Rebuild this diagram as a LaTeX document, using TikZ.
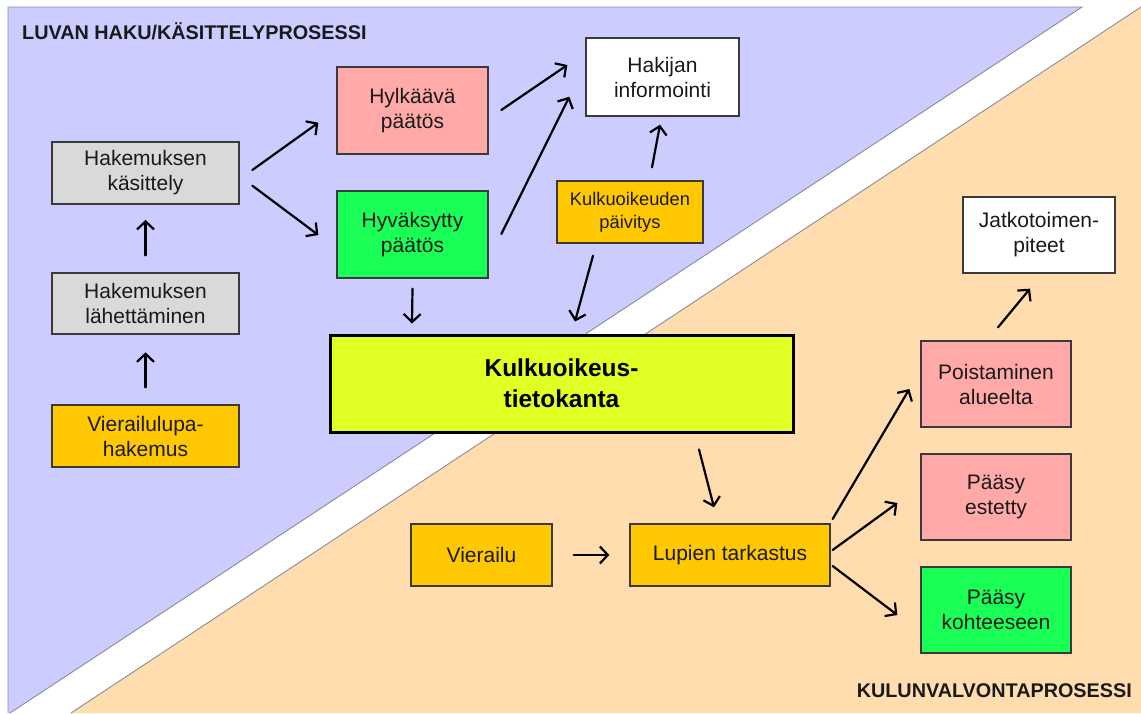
\documentclass[tikz,border=0pt]{standalone}
\usepackage{fontspec}
\setmainfont{Liberation Sans}
\usetikzlibrary{arrows.meta,calc}
\definecolor{lav}{HTML}{CCCCFF}
\definecolor{peach}{HTML}{FFDDAE}
\definecolor{greybox}{HTML}{D9D9D9}
\definecolor{orangebox}{HTML}{FFC800}
\definecolor{pinkbox}{HTML}{FFA9A9}
\definecolor{greenbox}{HTML}{19FF55}
\definecolor{limebox}{HTML}{E0FF22}
\definecolor{edgecol}{HTML}{3A3A3A}
\definecolor{txt}{HTML}{1A1A1A}
\definecolor{bgline}{HTML}{8A8A9A}
\tikzset{
  box/.style={draw=edgecol, line width=1.3pt, inner sep=0pt, align=center, text=txt,
    font=\fontsize{21}{25}\selectfont},
  sz/.style 2 args={minimum width=#1pt, minimum height=#2pt},
  arr/.style={line width=2.2pt, line cap=round, draw=black,
    -{Straight Barb[length=8pt,width=17pt,line width=2.2pt]}},
  heading/.style={font=\fontsize{19.8}{22}\selectfont\bfseries, text=txt, inner sep=0pt}
}
\begin{document}
\begin{tikzpicture}[x=1pt,y=-1pt]
\useasboundingbox (0,0) rectangle (1141,713);
\begin{scope}
\clip (0,0) rectangle (1141,713);
\fill[lav] (8,7) -- (1082,7) -- (10,713) -- (8,713) -- cycle;
\fill[peach] (1141,7) -- (1141,713) -- (71,713) -- cycle;
\draw[bgline, line width=0.9pt] (8,713) -- (8,7) -- (1082,7) -- (10,713);
\draw[bgline, line width=0.9pt] (1141,7) -- (71,713);
\end{scope}

\node[heading, anchor=west] (t1) at (22,31) {LUVAN HAKU/KÄSITTELYPROSESSI};
\node[heading, anchor=east] (t2) at (1132,691) {KULUNVALVONTAPROSESSI};

\node[box, fill=greybox, sz={187}{62}] (hk) at (145.5,173) {Hakemuksen\\käsittely};
\node[box, fill=greybox, sz={187}{61}] (hl) at (145.5,303.5) {Hakemuksen\\lähettäminen};
\node[box, fill=orangebox, sz={187}{62}] (vh) at (145.5,436) {Vierailulupa-\\hakemus};
\node[box, fill=pinkbox, sz={151}{87}] (hyl) at (412.5,110.5) {Hylkäävä\\päätös};
\node[box, fill=greenbox, sz={151}{87}] (hyv) at (412.5,234.5) {Hyväksytty\\päätös};
\node[box, fill=white, sz={153}{78}] (inf) at (662.5,77) {Hakijan\\informointi};
\node[box, fill=orangebox, sz={146}{62}, font=\fontsize{18.3}{23}\selectfont] (paiv) at (630,212) {Kulkuoikeuden\\päivitys};
\node[box, fill=limebox, sz={463}{97}, draw=black, line width=3pt,
  font=\fontsize{24.5}{31}\selectfont\bfseries, text=black] (db) at (561.5,383.5) {Kulkuoikeus-\\tietokanta};
\node[box, fill=white, sz={152}{76}] (jatko) at (1039,235) {Jatkotoimen-\\piteet};
\node[box, fill=pinkbox, sz={150}{86}] (poist) at (996,384) {Poistaminen\\alueelta};
\node[box, fill=pinkbox, sz={150}{86}] (est) at (996,497) {Pääsy\\estetty};
\node[box, fill=greenbox, sz={150}{86}] (koht) at (996,610) {Pääsy\\kohteeseen};
\node[box, fill=orangebox, sz={141}{62}] (vier) at (481.5,555) {Vierailu};
\node[box, fill=orangebox, sz={200}{62}] (lupa) at (730,555) {Lupien tarkastus};

\draw[arr] ($(hk.east)+(12.7,-3)$) -- ($(hyl.west)+(-18,12.2)$);
\draw[arr] ($(hk.east)+(12.7,12.7)$) -- ($(hyv.west)+(-18,0.5)$);
\draw[arr] ($(hl.north)+(0,-17)$) -- ($(hk.south)+(0,15.3)$);
\draw[arr] ($(vh.north)+(0,-17)$) -- ($(hl.south)+(0,17.7)$);
\draw[arr] ($(hyl.east)+(12.7,-0.5)$) -- ($(inf.west)+(-18,-12)$);
\draw[arr] ($(hyv.east)+(12.7,-0.5)$) -- ($(inf.west)+(-16,19.7)$);
\draw[arr] ($(paiv.north)+(22,-13)$) -- ($(inf.south)+(-2.5,8)$);
\draw[arr] ($(hyv.south)+(0,10)$) -- ($(db.north)+(-149.5,-10)$);
\draw[arr] ($(paiv.south)+(-37,12)$) -- ($(db.north)+(13.5,-12)$);
\draw[arr] ($(db.south)+(137.5,16)$) -- ($(lupa.north)+(-16,-16)$);
\draw[arr] ($(vier.east)+(21,0)$) -- ($(lupa.west)+(-20,0)$);
\draw[arr] ($(lupa.east)+(2,-36)$) -- ($(poist.west)+(-11,5)$);
\draw[arr] ($(lupa.east)+(2,-5)$) -- ($(est.west)+(-23,6)$);
\draw[arr] ($(lupa.east)+(2,11)$) -- ($(koht.west)+(-23,5)$);
\draw[arr] ($(poist.north)+(2,-13)$) -- ($(jatko.south)+(-9,15)$);
\end{tikzpicture}
\end{document}
